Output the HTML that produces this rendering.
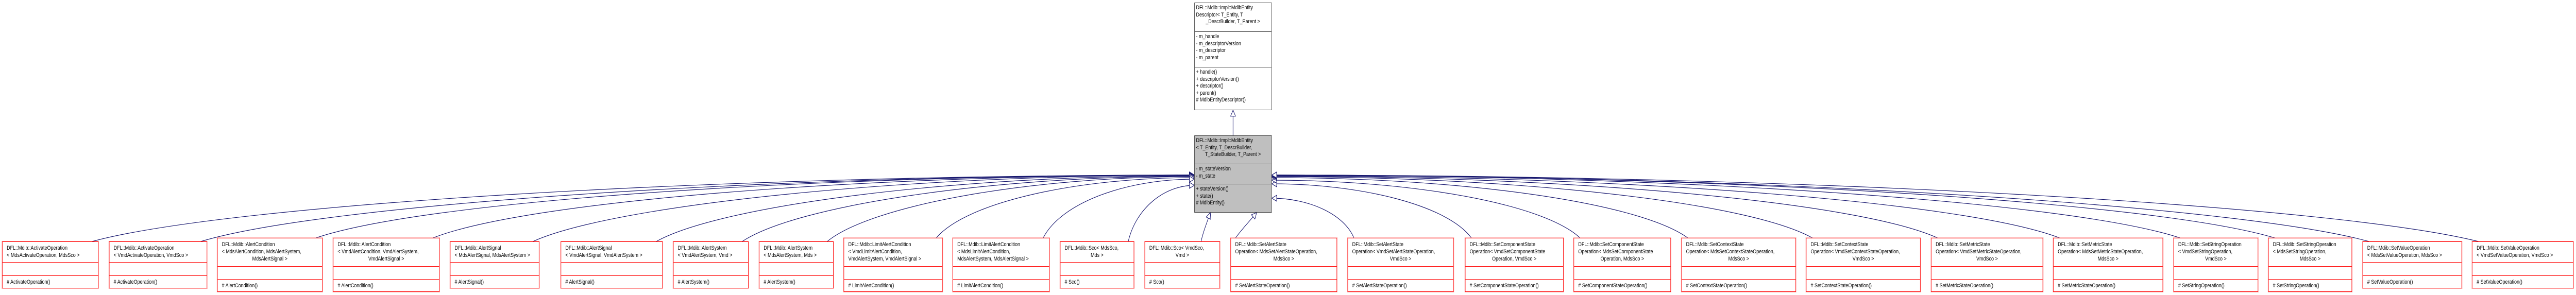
<!DOCTYPE html>
<html><head><meta charset="utf-8">
<meta name="viewport" content="width=6119">
<style>
html,body{margin:0;padding:0;background:#fff;overflow:hidden;}
body{width:100vw;height:100vh;position:relative;}
#root{position:absolute;left:0;top:0;width:6119px;height:573px;transform-origin:0 0;font-family:"Liberation Sans",Arial,sans-serif;font-size:11px;color:#000;}
.n{position:absolute;box-sizing:border-box;border:1px solid #ff0000;background:#fff;box-shadow:0 0 0 1px rgba(255,80,80,.45);}
.n .s{box-sizing:border-box;border-bottom:1px solid #ff0000;padding:5px 4px 0 10px;line-height:14px;white-space:nowrap;overflow:hidden;}
.n .s:last-child{border-bottom:none;}
.c{text-align:center;margin-left:-6px;}
.g{position:absolute;box-sizing:border-box;border:1px solid #404040;}
.g .s{box-sizing:border-box;border-bottom:1px solid #404040;padding:3px 4px 0 3px;line-height:13.5px;white-space:nowrap;overflow:hidden;}
.g .s:last-child{border-bottom:none;}
svg{position:absolute;left:0;top:0;}
</style></head><body>
<div id="root">
<svg id="sv" width="6119" height="573" viewBox="0 0 6119 573">
<defs><marker id="ah" markerUnits="userSpaceOnUse" markerWidth="14" markerHeight="14" viewBox="-1 -1 12 12" refX="10" refY="5" orient="auto"><path d="M0,0 L10,5 L0,10 z" fill="#fff" stroke="#191970" stroke-width="1"/></marker></defs>
<g id="eg" fill="none" stroke="#191970" stroke-width="1.2"></g>
</svg>

<div class="g" style="left:2837px;top:5px;width:184px;height:209px;background:#fff">
<div class="s" style="height:56px"><div>DFL::Mdib::Impl::MdibEntity</div><div>Descriptor&lt; T_Entity, T</div><div class="c" style="margin-left:0">_DescrBuilder, T_Parent &gt;</div></div>
<div class="s" style="height:69px"><div>- m_handle</div><div>- m_descriptorVersion</div><div>- m_descriptor</div><div>- m_parent</div></div>
<div class="s"><div>+ handle()</div><div>+ descriptorVersion()</div><div>+ descriptor()</div><div>+ parent()</div><div># MdibEntityDescriptor()</div></div>
</div>

<div class="g" style="left:2837px;top:263px;width:184px;height:150px;background:#bfbfbf">
<div class="s" style="height:55px"><div>DFL::Mdib::Impl::MdibEntity</div><div>&lt; T_Entity, T_DescrBuilder,</div><div class="c" style="margin-left:0">T_StateBuilder, T_Parent &gt;</div></div>
<div class="s" style="height:39px"><div>- m_stateVersion</div><div>- m_state</div></div>
<div class="s"><div>+ stateVersion()</div><div>+ state()</div><div># MdibEntity()</div></div>
</div>

<div class="n" style="left:5px;top:469px;width:229px;height:91px"><div class="s" style="height:40px"><div>DFL::Mdib::ActivateOperation</div><div>&lt; MdsActivateOperation, MdsSco &gt;</div></div><div class="s" style="height:26px"></div><div class="s"># ActivateOperation()</div></div>
<div class="n" style="left:259px;top:469px;width:233px;height:91px"><div class="s" style="height:40px"><div>DFL::Mdib::ActivateOperation</div><div>&lt; VmdActivateOperation, VmdSco &gt;</div></div><div class="s" style="height:26px"></div><div class="s"># ActivateOperation()</div></div>
<div class="n" style="left:516px;top:462px;width:250px;height:105px"><div class="s" style="height:55px"><div>DFL::Mdib::AlertCondition</div><div>&lt; MdsAlertCondition, MdsAlertSystem,</div><div class="c">MdsAlertSignal &gt;</div></div><div class="s" style="height:25px"></div><div class="s"># AlertCondition()</div></div>
<div class="n" style="left:791px;top:462px;width:253px;height:105px"><div class="s" style="height:55px"><div>DFL::Mdib::AlertCondition</div><div>&lt; VmdAlertCondition, VmdAlertSystem,</div><div class="c">VmdAlertSignal &gt;</div></div><div class="s" style="height:25px"></div><div class="s"># AlertCondition()</div></div>
<div class="n" style="left:1069px;top:469px;width:212px;height:91px"><div class="s" style="height:40px"><div>DFL::Mdib::AlertSignal</div><div>&lt; MdsAlertSignal, MdsAlertSystem &gt;</div></div><div class="s" style="height:26px"></div><div class="s"># AlertSignal()</div></div>
<div class="n" style="left:1332px;top:469px;width:242px;height:91px"><div class="s" style="height:40px"><div>DFL::Mdib::AlertSignal</div><div>&lt; VmdAlertSignal, VmdAlertSystem &gt;</div></div><div class="s" style="height:26px"></div><div class="s"># AlertSignal()</div></div>
<div class="n" style="left:1599px;top:469px;width:179px;height:91px"><div class="s" style="height:40px"><div>DFL::Mdib::AlertSystem</div><div>&lt; VmdAlertSystem, Vmd &gt;</div></div><div class="s" style="height:26px"></div><div class="s"># AlertSystem()</div></div>
<div class="n" style="left:1803px;top:469px;width:177px;height:91px"><div class="s" style="height:40px"><div>DFL::Mdib::AlertSystem</div><div>&lt; MdsAlertSystem, Mds &gt;</div></div><div class="s" style="height:26px"></div><div class="s"># AlertSystem()</div></div>
<div class="n" style="left:2004px;top:462px;width:235px;height:105px"><div class="s" style="height:55px"><div>DFL::Mdib::LimitAlertCondition</div><div>&lt; VmdLimitAlertCondition,</div><div>VmdAlertSystem, VmdAlertSignal &gt;</div></div><div class="s" style="height:25px"></div><div class="s"># LimitAlertCondition()</div></div>
<div class="n" style="left:2263px;top:462px;width:230px;height:105px"><div class="s" style="height:55px"><div>DFL::Mdib::LimitAlertCondition</div><div>&lt; MdsLimitAlertCondition,</div><div>MdsAlertSystem, MdsAlertSignal &gt;</div></div><div class="s" style="height:25px"></div><div class="s"># LimitAlertCondition()</div></div>
<div class="n" style="left:2518px;top:469px;width:176px;height:91px"><div class="s" style="height:40px"><div>DFL::Mdib::Sco&lt; MdsSco,</div><div class="c">Mds &gt;</div></div><div class="s" style="height:26px"></div><div class="s"># Sco()</div></div>
<div class="n" style="left:2719px;top:469px;width:179px;height:91px"><div class="s" style="height:40px"><div>DFL::Mdib::Sco&lt; VmdSco,</div><div class="c">Vmd &gt;</div></div><div class="s" style="height:26px"></div><div class="s"># Sco()</div></div>
<div class="n" style="left:2923px;top:462px;width:253px;height:105px"><div class="s" style="height:55px"><div>DFL::Mdib::SetAlertState</div><div>Operation&lt; MdsSetAlertStateOperation,</div><div class="c">MdsSco &gt;</div></div><div class="s" style="height:25px"></div><div class="s"># SetAlertStateOperation()</div></div>
<div class="n" style="left:3201px;top:462px;width:252px;height:105px"><div class="s" style="height:55px"><div>DFL::Mdib::SetAlertState</div><div>Operation&lt; VmdSetAlertStateOperation,</div><div class="c">VmdSco &gt;</div></div><div class="s" style="height:25px"></div><div class="s"># SetAlertStateOperation()</div></div>
<div class="n" style="left:3480px;top:462px;width:234px;height:105px"><div class="s" style="height:55px"><div>DFL::Mdib::SetComponentState</div><div>Operation&lt; VmdSetComponentState</div><div class="c">Operation, VmdSco &gt;</div></div><div class="s" style="height:25px"></div><div class="s"># SetComponentStateOperation()</div></div>
<div class="n" style="left:3738px;top:462px;width:231px;height:105px"><div class="s" style="height:55px"><div>DFL::Mdib::SetComponentState</div><div>Operation&lt; MdsSetComponentState</div><div class="c">Operation, MdsSco &gt;</div></div><div class="s" style="height:25px"></div><div class="s"># SetComponentStateOperation()</div></div>
<div class="n" style="left:3994px;top:462px;width:272px;height:105px"><div class="s" style="height:55px"><div>DFL::Mdib::SetContextState</div><div>Operation&lt; MdsSetContextStateOperation,</div><div class="c">MdsSco &gt;</div></div><div class="s" style="height:25px"></div><div class="s"># SetContextStateOperation()</div></div>
<div class="n" style="left:4290px;top:462px;width:272px;height:105px"><div class="s" style="height:55px"><div>DFL::Mdib::SetContextState</div><div>Operation&lt; VmdSetContextStateOperation,</div><div class="c">VmdSco &gt;</div></div><div class="s" style="height:25px"></div><div class="s"># SetContextStateOperation()</div></div>
<div class="n" style="left:4587px;top:462px;width:266px;height:105px"><div class="s" style="height:55px"><div>DFL::Mdib::SetMetricState</div><div>Operation&lt; VmdSetMetricStateOperation,</div><div class="c">VmdSco &gt;</div></div><div class="s" style="height:25px"></div><div class="s"># SetMetricStateOperation()</div></div>
<div class="n" style="left:4877px;top:462px;width:261px;height:105px"><div class="s" style="height:55px"><div>DFL::Mdib::SetMetricState</div><div>Operation&lt; MdsSetMetricStateOperation,</div><div class="c">MdsSco &gt;</div></div><div class="s" style="height:25px"></div><div class="s"># SetMetricStateOperation()</div></div>
<div class="n" style="left:5163px;top:462px;width:201px;height:105px"><div class="s" style="height:55px"><div>DFL::Mdib::SetStringOperation</div><div>&lt; VmdSetStringOperation,</div><div class="c">VmdSco &gt;</div></div><div class="s" style="height:25px"></div><div class="s"># SetStringOperation()</div></div>
<div class="n" style="left:5388px;top:462px;width:199px;height:105px"><div class="s" style="height:55px"><div>DFL::Mdib::SetStringOperation</div><div>&lt; MdsSetStringOperation,</div><div class="c">MdsSco &gt;</div></div><div class="s" style="height:25px"></div><div class="s"># SetStringOperation()</div></div>
<div class="n" style="left:5612px;top:469px;width:236px;height:91px"><div class="s" style="height:40px"><div>DFL::Mdib::SetValueOperation</div><div>&lt; MdsSetValueOperation, MdsSco &gt;</div></div><div class="s" style="height:26px"></div><div class="s"># SetValueOperation()</div></div>
<div class="n" style="left:5872px;top:469px;width:241px;height:91px"><div class="s" style="height:40px"><div>DFL::Mdib::SetValueOperation</div><div>&lt; VmdSetValueOperation, VmdSco &gt;</div></div><div class="s" style="height:26px"></div><div class="s"># SetValueOperation()</div></div>
</div>

<script>
(function(){
var E=[
[219,469,2837,340],[477,469,2837,340],[751,462,2837,340],[1029,462,2837,340],
[1266,469,2837,340],[1559,469,2837,341],[1763,469,2837,342],[1965,469,2837,343],
[2224,462,2837,345],[2478,462,2837,348],[2680,469,2837,360],
[3216,462,3021,385],[3495,462,3021,357],[3753,462,3021,350],[4009,462,3021,345],
[4305,462,3021,343],[4602,462,3021,342],[4892,462,3021,341],[5178,462,3021,340],
[5403,462,3021,340],[5627,469,3021,340],[5887,469,3021,340]];
var g=document.getElementById('eg'),ns='http://www.w3.org/2000/svg';
function add(d){var p=document.createElementNS(ns,'path');p.setAttribute('d',d);p.setAttribute('marker-end','url(#ah)');g.appendChild(p);}
E.forEach(function(e){var sx=e[0],sy=e[1],ex=e[2],ey=e[3];
var c1x=sx+(ex-sx)*0.12,c1y=sy-Math.min(70,(sy-ey)*0.6),c2x=ex+(sx-ex)*0.45;
add('M'+sx+','+sy+' C'+c1x+','+c1y+' '+c2x+','+ey+' '+ex+','+ey);});
add('M2853,469 C2858,450 2868,430 2875,413');
add('M2935,462 C2950,445 2970,428 2985,413');
add('M2929,263 L2929,214');
function fit(){var w=window.innerWidth||document.documentElement.clientWidth||6119;
var h=window.innerHeight||document.documentElement.clientHeight||573;
document.getElementById('root').style.transform='scale('+(w/6119)+','+(h/573)+')';}
fit();window.addEventListener('resize',fit);
})();
</script>
</body></html>
